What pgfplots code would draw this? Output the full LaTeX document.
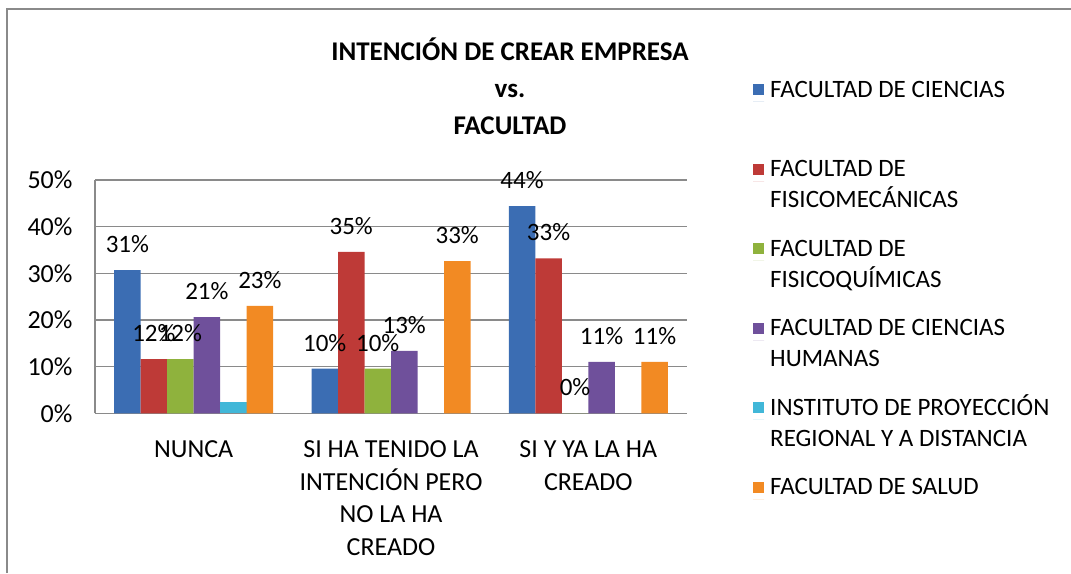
\documentclass[border=0pt]{standalone}
\usepackage{fontspec}
\setmainfont{Carlito}
\usepackage{pgfplots}
\pgfplotsset{compat=1.18}
\definecolor{cA}{HTML}{3B6DB3}
\definecolor{cB}{HTML}{BE3A37}
\definecolor{cC}{HTML}{8FB23D}
\definecolor{cD}{HTML}{6F509B}
\definecolor{cE}{HTML}{41B7D8}
\definecolor{cF}{HTML}{F28A23}
\definecolor{gridgray}{HTML}{8A8A8A}
\newcommand\ls{\rule[-8pt]{0pt}{29pt}}
\pgfplotsset{
  mybar/.style={draw=none, fill=#1,
    legend image code/.code={\path (0pt,1pt) -- (11pt,1pt); \fill[#1] (0pt,7.5pt) rectangle (11pt,18.5pt);}},
}
\begin{document}
\begin{tikzpicture}[x=1pt,y=1pt]
\path[use as bounding box] (0,0) rectangle (1071,573);
\draw[gridgray, line width=2pt] (7,0) -- (7,564) -- (1071,564);
\node[font=\bfseries\fontsize{27}{37}\selectfont, align=center] at (510,487) {INTENCIÓN DE CREAR EMPRESA\\vs.\\FACULTAD};
\begin{axis}[
  at={(95pt,159.7pt)}, anchor=south west,
  scale only axis, width=592pt, height=233.3pt,
  ybar=0pt, bar width=26.5pt,
  xmin=-0.5, xmax=2.5, ymin=0, ymax=50,
  enlargelimits=false,
  xtick={0,1,2},
  xticklabels={NUNCA, {SI HA TENIDO LA\\INTENCIÓN PERO\\NO LA HA\\CREADO}, {SI Y YA LA HA\\CREADO}},
  xticklabel style={align=center, font=\fontsize{26}{32.5}\selectfont, yshift=-24pt},
  ytick={0,10,20,30,40,50},
  yticklabel={\pgfmathprintnumber{\tick}\%},
  yticklabel style={font=\fontsize{26}{30}\selectfont, xshift=-19pt},
  /pgf/number format/assume math mode=true,
  ymajorgrids, grid style={color=gridgray, line width=1.2pt},
  axis x line*=bottom, axis y line*=left,
  axis line style={-, draw=gridgray, line width=1.2pt},
  major tick length=0pt,
  nodes near coords={\pgfmathprintnumber[fixed,precision=0]{\pgfplotspointmeta}\%},
  every node near coord/.append style={font=\fontsize{25}{30}\selectfont, anchor=south, inner sep=0pt, yshift=17pt, color=black},
  legend style={at={(1.1115,1.446)}, anchor=north west, draw=none, fill=none, inner sep=0pt,
    font=\fontsize{25}{31}\selectfont, nodes={align=left, inner sep=0pt}, row sep=26pt, column sep=6pt},
  legend cell align=left,
]
\addplot[mybar=cA] coordinates {(0,30.7) (1,9.6) (2,44.4)};
\addplot[mybar=cB] coordinates {(0,11.6) (1,34.6) (2,33.2)};
\addplot[mybar=cC] coordinates {(0,11.6) (1,9.6) (2,0)};
\addplot[mybar=cD] coordinates {(0,20.6) (1,13.4) (2,11.0)};
\addplot[mybar=cE, nodes near coords={}] coordinates {(0,2.4)};
\addplot[mybar=cF] coordinates {(0,23.0) (1,32.6) (2,11.0)};
\legend{{\ls FACULTAD DE CIENCIAS\\\ls}, {\ls FACULTAD DE\\\ls FISICOMECÁNICAS}, {\ls FACULTAD DE\\\ls FISICOQUÍMICAS}, {\ls FACULTAD DE CIENCIAS\\\ls HUMANAS}, {\ls INSTITUTO DE PROYECCIÓN\\\ls REGIONAL Y A DISTANCIA}, {\ls FACULTAD DE SALUD\\\ls}}
\end{axis}
\end{tikzpicture}
\end{document}
